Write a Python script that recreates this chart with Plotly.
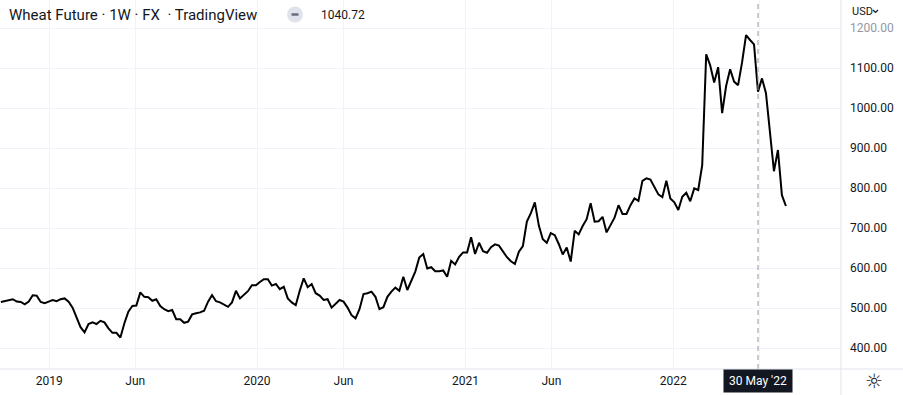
import plotly.graph_objects as go
import pandas as pd

# ---- data (weekly closes) ----
start_date = "2018-10-08"
prices_2018_19 = [515, 517, 520, 522, 516, 515, 509, 516, 532, 531, 515, 512, 516, 520, 517,
                  522, 524, 516, 501, 477, 452, 439, 460, 464, 460, 468, 464, 449, 438, 438,
                  426, 462, 491, 505, 506, 539, 528, 527, 518, 522, 505, 497, 492]
prices_2019_20 = [495, 472, 472, 463, 466, 484, 487, 489, 493, 516, 532, 517, 514, 509, 503,
                  514, 543, 524, 532, 542, 557, 557, 565, 572, 572, 556, 560, 547, 553, 524,
                  514, 507, 543, 574, 552, 560, 537, 531, 520, 522, 501, 510, 520]
prices_2020_21 = [516, 501, 482, 474, 497, 535, 537, 541, 528, 497, 502, 528, 541, 551, 543,
                  578, 545, 570, 591, 626, 635, 599, 602, 592, 592, 594, 578, 618, 609, 628,
                  639, 639, 677, 635, 663, 642, 638, 652, 659, 656, 641, 627]
prices_2021_22 = [617, 610, 641, 655, 716, 737, 764, 706, 672, 663, 687, 682, 660, 634, 651,
                  616, 693, 684, 705, 722, 762, 716, 717, 728, 689, 707, 726, 757, 735, 735,
                  757, 774, 768, 818, 824, 821, 803, 784, 777, 818, 774, 764, 745]
prices_2022 = [778, 788, 767, 799, 795, 857, 1134, 1107, 1064, 1102, 987, 1055, 1097, 1066,
               1057, 1114, 1182, 1170, 1159, 1040.72, 1074, 1037, 941, 842, 895, 782, 755]
prices = prices_2018_19 + prices_2019_20 + prices_2020_21 + prices_2021_22 + prices_2022
dates = pd.date_range(start_date, periods=len(prices), freq="7D")

x_tick_vals = ["2019-01-01", "2019-06-01", "2020-01-01", "2020-06-01",
               "2021-01-01", "2021-06-01", "2022-01-01", "2022-06-01"]
x_tick_text = ["2019", "Jun", "2020", "Jun", "2021", "Jun", "2022", ""]
y_tick_vals = [400, 500, 600, 700, 800, 900, 1000, 1100, 1200]
y_tick_text = [f"{v:.2f}" for v in y_tick_vals]
y_tick_text[-1] = "<span style='color:#9598a1'>1200.00</span>"

crosshair_date = "2022-05-30"
crosshair_label = "30 May '22"
title_text = "Wheat Future · 1W · FX  · TradingView"
last_value_text = "1040.72"

TEXT = "#131722"
GRID = "#f0f3fa"
BORDER = "#e0e3eb"
FONT = "Roboto, 'Open Sans', sans-serif"

W, H = 903, 395
PW, PH = 841, 369   # plot area in px


def px(xp):
    return xp / PW


def py(yp):
    return 1 - yp / PH


fig = go.Figure()
fig.add_trace(go.Scatter(x=dates, y=prices, mode="lines",
                         line=dict(color="#000000", width=2), hoverinfo="skip"))

fig.update_layout(
    width=W, height=H,
    margin=dict(l=0, r=W - PW, t=0, b=H - PH),
    paper_bgcolor="white", plot_bgcolor="white",
    showlegend=False,
    font=dict(family=FONT, color=TEXT, size=12),
    xaxis=dict(range=["2018-10-06 12:00", "2022-10-22 19:00"],
               tickvals=x_tick_vals, ticktext=x_tick_text,
               showgrid=True, gridcolor=GRID, gridwidth=1,
               zeroline=False, showline=False, ticks="",
               ticklabelstandoff=3, tickfont=dict(size=12, color=TEXT)),
    yaxis=dict(range=[347.5, 1270], side="right",
               tickvals=y_tick_vals, ticktext=y_tick_text,
               showgrid=True, gridcolor=GRID, gridwidth=1,
               zeroline=False, showline=False, ticks="",
               ticklabelstandoff=8, tickfont=dict(size=12, color=TEXT)),
    hovermode=False,
)

shapes = [
    # crosshair
    dict(type="line", xref="x", yref="paper", x0=crosshair_date, x1=crosshair_date,
         y0=0, y1=1, line=dict(color="#9598a1", width=1, dash="5px,4px")),
    # separators
    dict(type="line", xref="paper", yref="paper", x0=1, x1=1, y0=py(H), y1=1,
         line=dict(color=BORDER, width=1)),
    dict(type="line", xref="paper", yref="paper", x0=0, x1=px(W), y0=0, y1=0,
         line=dict(color=BORDER, width=1)),
    # grey circle icon in the header
    dict(type="circle", xref="paper", yref="paper",
         x0=px(287), x1=px(303), y0=py(22.5), y1=py(6.5),
         fillcolor="#e0e3eb", line=dict(width=0)),
    dict(type="line", xref="paper", yref="paper", x0=px(291.5), x1=px(298.5),
         y0=py(14.5), y1=py(14.5), line=dict(color="#6a6d78", width=2.5)),
    # chevron after USD
    dict(type="path", xref="paper", yref="paper",
         path=f"M {px(873)} {py(10)} L {px(875.5)} {py(12.5)} L {px(878)} {py(10)}",
         line=dict(color=TEXT, width=1.2)),
]
fig.update_layout(shapes=shapes)

annotations = [
    dict(text=title_text, xref="paper", yref="paper", x=px(7), y=py(14.5),
         xanchor="left", yanchor="middle", showarrow=False,
         font=dict(size=15, color=TEXT, family=FONT)),
    dict(text=last_value_text, xref="paper", yref="paper", x=px(319), y=py(14.5),
         xanchor="left", yanchor="middle", showarrow=False,
         font=dict(size=12, color=TEXT, family=FONT)),
    dict(text="USD", xref="paper", yref="paper", x=px(850), y=py(11),
         xanchor="left", yanchor="middle", showarrow=False,
         font=dict(size=11, color=TEXT, family=FONT)),
    dict(text=crosshair_label, xref="x", yref="paper", x=crosshair_date, y=py(381.5),
         xanchor="center", yanchor="middle", showarrow=False,
         bgcolor="#131722", borderpad=4, width=60,
         font=dict(size=12, color="white", family=FONT)),
    dict(text="☼", xref="paper", yref="paper", x=px(873.5), y=py(381.5),
         xanchor="center", yanchor="middle", showarrow=False,
         font=dict(size=20, color=TEXT, family="DejaVu Sans")),
]
fig.update_layout(annotations=annotations)

fig.write_html("out.html", config={"displayModeBar": False, "staticPlot": True},
               post_script="document.body.style.margin='0';document.body.style.overflow='hidden';")
